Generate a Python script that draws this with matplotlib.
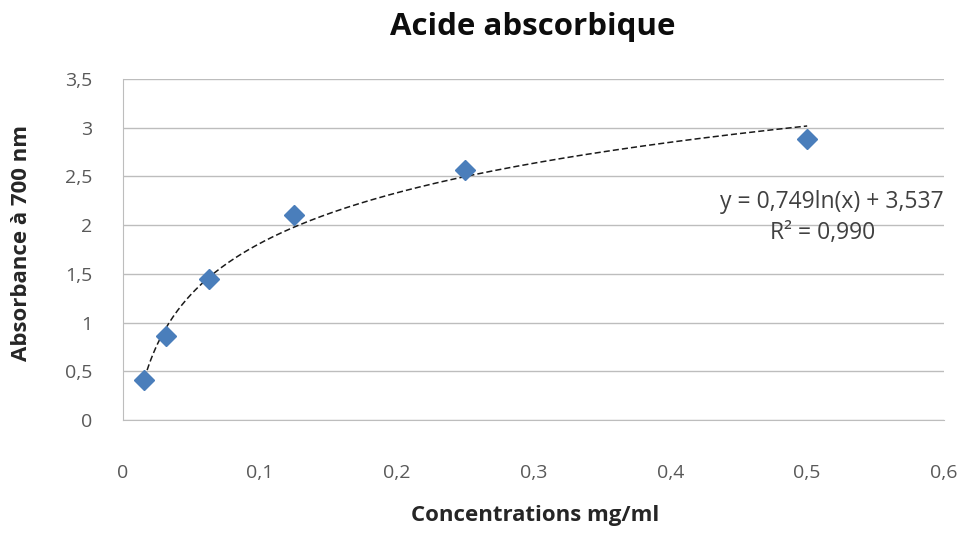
import numpy as np
import matplotlib
matplotlib.use("Agg")
import matplotlib.pyplot as plt
from matplotlib.ticker import FuncFormatter, MultipleLocator

# Values
concentrations = [0.015625, 0.03125, 0.0625, 0.125, 0.25, 0.5]
absorbance = [0.41, 0.86, 1.45, 2.10, 2.57, 2.88]

# Logarithmic trendline as printed on the chart
fit_slope = 0.749
fit_intercept = 3.537
fit_r2 = 0.990

plt.rcParams['font.family'] = ['Open Sans', 'DejaVu Sans']

W, H = 968, 533
fig = plt.figure(figsize=(W / 100, H / 100), dpi=100)
ax = fig.add_axes([123 / W, 1 - 420 / H, (944 - 123) / W, (420 - 79) / H])

def comma(v, pos):
    s = ('%.1f' % v).rstrip('0').rstrip('.')
    return s.replace('.', ',')

# trendline
xs = np.linspace(min(concentrations), max(concentrations), 300)
ax.plot(xs, fit_slope * np.log(xs) + fit_intercept, color='#1a1a1a',
        lw=1.1, dashes=(4, 2), zorder=2)

ax.plot(concentrations, absorbance, 'D', color='#4a7ebb', ms=10.5,
        mec='#4a7ebb', zorder=3)

ax.set_xlim(0, 0.6)
ax.set_ylim(0, 3.5)
ax.xaxis.set_major_locator(MultipleLocator(0.1))
ax.yaxis.set_major_locator(MultipleLocator(0.5))
ax.xaxis.set_major_formatter(FuncFormatter(comma))
ax.yaxis.set_major_formatter(FuncFormatter(comma))
ax.grid(axis='y', color='#bdbdbd', lw=1.0)
ax.set_axisbelow(True)
for side in ['top', 'right']:
    ax.spines[side].set_visible(False)
for side in ['left', 'bottom']:
    ax.spines[side].set_color('#bdbdbd')
ax.tick_params(length=0, labelsize=14, colors='#595959')
ax.tick_params(axis='x', pad=32)
ax.tick_params(axis='y', pad=22)

fig.text(533 / W, 1 - 27 / H, 'Acide abscorbique', fontsize=22.5,
         fontweight='bold', ha='center', va='center', color='#0d0d0d')
fig.text(535 / W, 1 - 515 / H, 'Concentrations mg/ml', fontsize=16,
         fontweight='bold', ha='center', va='center', color='#262626')
fig.text(22 / W, 1 - 243 / H, 'Absorbance à 700 nm', fontsize=16,
         fontweight='bold', ha='center', va='center', rotation=90,
         color='#262626')

ax.text(0.6, 2.24, 'y = %s' % ('%.3fln(x) + %.3f' % (fit_slope, fit_intercept)).replace('.', ','),
        ha='right', va='center', fontsize=16.5, color='#404040')
ax.text(0.511, 1.92, 'R² = %s' % ('%.3f' % fit_r2).replace('.', ','),
        ha='center', va='center', fontsize=16.5, color='#404040')

fig.savefig('out.png', dpi=100)
